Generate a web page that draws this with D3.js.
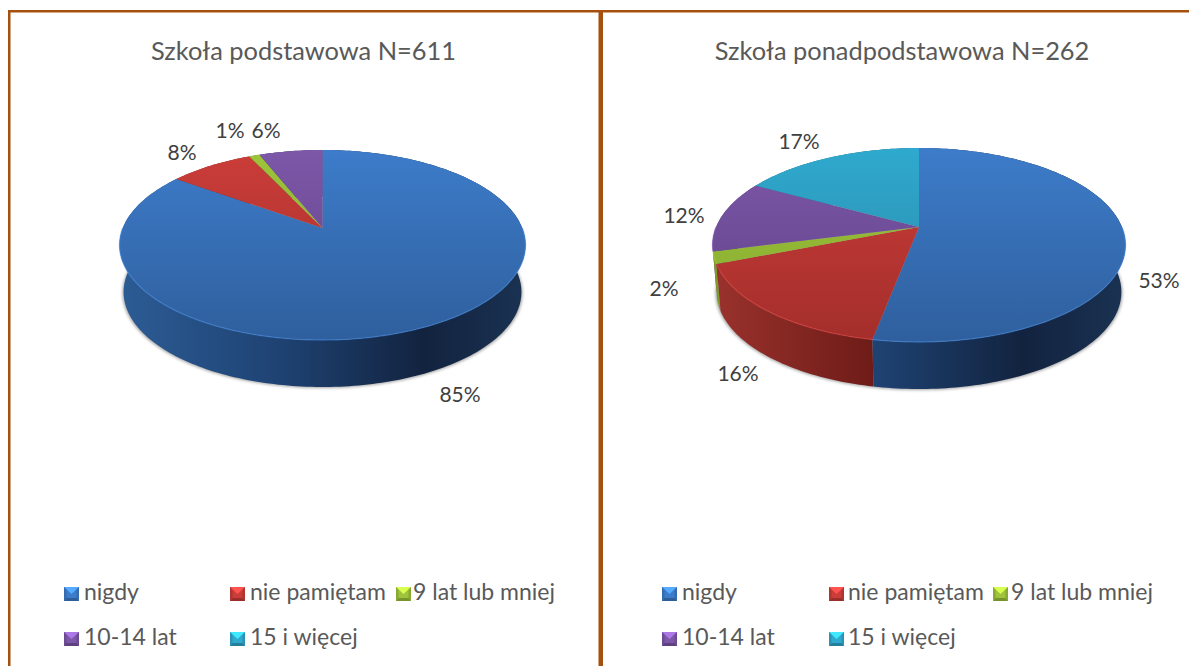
<!DOCTYPE html>
<html>
<head>
<meta charset="utf-8">
<script src="https://cdn.jsdelivr.net/npm/d3@7"></script>
<style>
  html, body { margin: 0; padding: 0; background: #fff; overflow: hidden; }
  text { font-family: Lato, sans-serif; fill: #595959; }
</style>
</head>
<body>
<script>
// data
var categories = ["nigdy", "nie pamiętam", "9 lat lub mniej", "10-14 lat", "15 i więcej"];
var titles = ["Szkoła podstawowa N=611", "Szkoła ponadpodstawowa N=262"];
var valuesPodstawowa = [85, 8, 1, 6, 0];
var valuesPonad = [53, 16, 2, 12, 17];

// colours per category: top of face, bottom of face, wall stops
var faceTop = ["#3d7cca", "#cb3d39", "#9dc43a", "#7d57a8", "#2fa9ce"];
var faceBottom = ["#2f5f9d", "#a32e2b", "#86a82f", "#5f4287", "#2a87a5"];
var wallStops = [
  ["#2c5c95", "#1e4272", "#12233f", "#1a3252"],
  ["#9a322d", "#6d1b17", "#4f1210", "#661c19"],
  ["#7f9a2c", "#5f7520", "#44541a", "#55681f"],
  ["#5f4287", "#44305f", "#30223f", "#3d2d55"],
  ["#2a87a5", "#1e6178", "#154555", "#1c566a"]
];

var width = 1189, height = 666;
var svg = d3.select("body").append("svg").attr("width", width).attr("height", height);
var defs = svg.append("defs");

defs.append("filter").attr("id", "soft")
  .attr("x", "-5%").attr("y", "-5%").attr("width", "110%").attr("height", "110%")
  .append("feGaussianBlur").attr("stdDeviation", 1.6);

var boxes = [
  { id: "a", values: valuesPodstawowa, title: titles[0], titleX: 303.5, cx: 322.5, rx: 203, top: 150, apex: 228, bottom: 340, depth: 47,
    labels: [[460, 395], [182, 153], [230, 131], [266, 131], null],
    legendX: [64, 230, 396, 64, 230], legendText: [84, 250, 413, 84, 250] },
  { id: "b", values: valuesPonad, title: titles[1], titleX: 902, cx: 919, rx: 206.5, top: 148, apex: 227, bottom: 342, depth: 47,
    labels: [[1159, 281], [738, 374], [664, 289], [684, 216], [799, 142]],
    legendX: [662, 829, 993, 662, 829], legendText: [682, 848, 1011, 682, 848] }
];

var pie = d3.pie().sort(null).value(function (d) { return d; })
  .startAngle(0).endAngle(2 * Math.PI);

boxes.forEach(drawPie);

function drawPie(b) {
  // perspective: circle goes through a projective map so the apex sits above the ellipse centre
  var k = (2 * b.apex - b.top - b.bottom) / (b.bottom - b.top);
  var a = b.apex - b.top + b.top * k;
  var A = b.rx * Math.sqrt(1 - k * k);
  function project(t) {
    var u = Math.sin(t), v = -Math.cos(t), w = 1 + k * v;
    return [b.cx + A * u / w, (b.apex + a * v) / w];
  }
  function arcPoints(s, e) {
    var n = Math.max(2, Math.ceil((e - s) / 0.02)), pts = [];
    d3.range(n + 1).forEach(function (i) { pts.push(project(s + (e - s) * i / n)); });
    return pts;
  }
  // lower rim is a little narrower than the top one
  function lower(p) {
    return [b.cx + (p[0] - b.cx) * 0.98, p[1] + b.depth];
  }
  var line = d3.line();
  var g = svg.append("g");

  var slices = pie(b.values).map(function (d, i) { d.cat = i; return d; }).filter(function (d) { return d.value > 0; });

  // gradients
  var x0 = b.cx - b.rx, x1 = b.cx + b.rx;
  slices.forEach(function (d) {
    var i = d.cat;
    var fg = defs.append("linearGradient").attr("id", "face-" + b.id + i)
      .attr("gradientUnits", "userSpaceOnUse")
      .attr("x1", 0).attr("x2", 0).attr("y1", b.top).attr("y2", b.bottom);
    fg.append("stop").attr("offset", 0).attr("stop-color", faceTop[i]);
    fg.append("stop").attr("offset", 1).attr("stop-color", faceBottom[i]);
    var wg = defs.append("linearGradient").attr("id", "wall-" + b.id + i)
      .attr("gradientUnits", "userSpaceOnUse")
      .attr("x1", x0).attr("x2", x1).attr("y1", 0).attr("y2", 0);
    [0, 0.4, 0.75, 1].forEach(function (o, j) {
      wg.append("stop").attr("offset", o).attr("stop-color", wallStops[i][j]);
    });
  });

  var full = arcPoints(0, 2 * Math.PI);

  // soft shadow round the lower edge
  g.append("path")
    .attr("d", line(full.map(function (p) { return [b.cx + (p[0] - b.cx) * 0.985, p[1] + b.depth + 1]; })) + "Z")
    .attr("fill", "#666").attr("opacity", 0.6).attr("filter", "url(#soft)");

  // walls, back ones first
  var walls = slices.map(function (d) {
    var pts = arcPoints(d.startAngle, d.endAngle);
    var down = pts.map(lower).reverse();
    return { cat: d.cat, pts: pts.concat(down), low: d3.max(pts, function (p) { return p[1]; }) };
  }).sort(function (p, q) { return p.low - q.low; });

  g.selectAll(".wall").data(walls).enter().append("path")
    .attr("class", "wall")
    .attr("d", function (d) { return line(d.pts) + "Z"; })
    .attr("fill", function (d) { return "url(#wall-" + b.id + d.cat + ")"; });

  // top face
  g.selectAll(".face").data(slices).enter().append("path")
    .attr("class", "face")
    .attr("d", function (d) {
      return line([[b.cx, b.apex]].concat(arcPoints(d.startAngle, d.endAngle))) + "Z";
    })
    .attr("fill", function (d) { return "url(#face-" + b.id + d.cat + ")"; });

  // light bevel on the front rim
  g.selectAll(".rim").data(slices).enter().append("path")
    .attr("class", "rim")
    .attr("d", function (d) {
      var from = Math.max(d.startAngle, Math.PI / 2), to = Math.min(d.endAngle, 1.5 * Math.PI);
      return from < to ? line(arcPoints(from, to)) : null;
    })
    .attr("fill", "none")
    .attr("stroke", function (d) { return d3.color(faceTop[d.cat]).brighter(0.3); })
    .attr("stroke-width", 1.3)
    .attr("opacity", 0.55);

  // percent labels
  slices.forEach(function (d) {
    var p = b.labels[d.cat];
    g.append("text").attr("x", p[0]).attr("y", p[1] + 7)
      .attr("text-anchor", "middle").attr("font-size", 21)
      .style("fill", "#404040")
      .text(d.value + "%");
  });

  // title
  g.append("text").attr("x", b.titleX).attr("y", 60)
    .attr("text-anchor", "middle").attr("font-size", 25.4)
    .text(b.title);

  // legend
  categories.forEach(function (c, i) {
    var x = b.legendX[i], y = i < 3 ? 587 : 632;
    var base = d3.color(faceTop[i]);
    var lg = g.append("g").attr("transform", "translate(" + x + "," + y + ")");
    lg.append("rect").attr("width", 15).attr("height", 14).attr("fill", base);
    lg.append("path").attr("d", "M0,0H15L7.5,7Z").attr("fill", base.brighter(0.9));
    lg.append("path").attr("d", "M0,14H15L12.5,11H2.5Z").attr("fill", base.darker(0.8));
    lg.append("path").attr("d", "M0,0L2.5,3V11L0,14Z").attr("fill", base.darker(0.4));
    lg.append("path").attr("d", "M15,0L12.5,3V11L15,14Z").attr("fill", base.darker(0.4));
    g.append("text").attr("x", b.legendText[i]).attr("y", y + 13)
      .attr("font-size", 23).text(c);
  });
}

// frame
svg.append("rect").attr("x", 8).attr("y", 10).attr("width", width - 8).attr("height", 2.5).attr("fill", "#a5500f");
svg.append("rect").attr("x", 8).attr("y", 10).attr("width", 2.5).attr("height", height - 10).attr("fill", "#a5500f");
svg.append("rect").attr("x", 598.5).attr("y", 10).attr("width", 4.5).attr("height", height - 10).attr("fill", "#a5500f");
</script>
</body>
</html>
